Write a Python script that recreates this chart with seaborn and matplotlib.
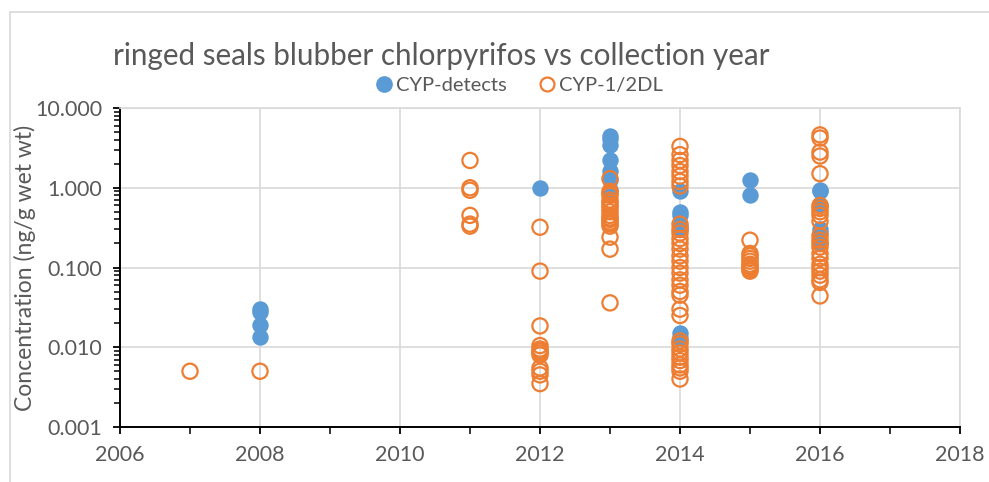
import numpy as np
import pandas as pd
import matplotlib
matplotlib.use('Agg')
import matplotlib.pyplot as plt
import seaborn as sns
from matplotlib.lines import Line2D
from matplotlib.ticker import LogLocator, FormatStrFormatter, MultipleLocator, NullFormatter

# ── Data ─────────────────────────────────────────────────────
# CYP-detects (filled blue)
detect_years = [2008, 2008, 2008, 2008,
                2012,
                2013, 2013, 2013, 2013, 2013, 2013, 2013,
                2014, 2014, 2014, 2014, 2014, 2014, 2014,
                2015, 2015,
                2016, 2016, 2016, 2016, 2016, 2016]
detect_conc = [0.030, 0.028, 0.019, 0.0135,
               1.0,
               4.4, 4.1, 3.4, 2.2, 1.6, 1.25, 0.95,
               0.9, 0.5, 0.45, 0.33, 0.30, 0.015, 0.013,
               1.25, 0.8,
               0.95, 0.9, 0.6, 0.3, 0.27, 0.2]

# CYP-1/2DL (open orange)
dl_years = ([2007, 2008]
            + [2011] * 6
            + [2012] * 12
            + [2013] * 18
            + [2014] * 34
            + [2015] * 10
            + [2016] * 23)
dl_conc = ([0.005, 0.005]
           + [2.2, 1.0, 0.93, 0.45, 0.35, 0.33]
           + [0.32, 0.09, 0.0185, 0.0105, 0.0095, 0.009, 0.0085, 0.008,
              0.0055, 0.005, 0.0045, 0.0035]
           + [1.3, 0.9, 0.85, 0.8, 0.7, 0.65, 0.6, 0.55, 0.5, 0.45, 0.42,
              0.4, 0.37, 0.35, 0.33, 0.24, 0.17, 0.036]
           + [3.3, 2.6, 2.2, 1.9, 1.6, 1.4, 1.2, 1.05, 0.35, 0.3, 0.27,
              0.23, 0.2, 0.17, 0.14, 0.12, 0.1, 0.085, 0.07, 0.06, 0.05,
              0.045, 0.03, 0.025, 0.012, 0.011, 0.0095, 0.0085, 0.0075,
              0.0068, 0.006, 0.0055, 0.005, 0.004]
           + [0.22, 0.15, 0.14, 0.13, 0.12, 0.11, 0.105, 0.1, 0.095, 0.09]
           + [4.6, 4.2, 2.8, 2.5, 1.5, 0.6, 0.55, 0.5, 0.45, 0.38, 0.25,
              0.22, 0.2, 0.18, 0.15, 0.13, 0.11, 0.1, 0.09, 0.08, 0.07,
              0.065, 0.044])

title = 'ringed seals blubber chlorpyrifos vs collection year'
series_names = ['CYP-detects', 'CYP-1/2DL']

BLUE = '#5B9BD5'
ORANGE = '#ED7D31'
GREY_TXT = '#595959'
GRID = '#D9D9D9'

df_det = pd.DataFrame({'year': detect_years, 'conc': detect_conc})
df_dl = pd.DataFrame({'year': dl_years, 'conc': dl_conc})

# ── Style ────────────────────────────────────────────────────
sns.set_style('white')
plt.rcParams['font.family'] = ['Lato', 'DejaVu Sans']

fig = plt.figure(figsize=(9.89, 4.82), dpi=100)
ax = fig.add_axes([120 / 989, 1 - 427 / 482, 840 / 989, 319 / 482])

sns.scatterplot(data=df_det, x='year', y='conc', ax=ax, s=140,
                color=BLUE, edgecolor=BLUE, linewidth=0, zorder=3)
sns.scatterplot(data=df_dl, x='year', y='conc', ax=ax, s=120,
                facecolor='none', edgecolor=ORANGE, linewidth=1.6, zorder=4)

ax.set_yscale('log')
ax.set_ylim(0.001, 10)
ax.set_xlim(2006, 2018)

ax.xaxis.set_major_locator(MultipleLocator(2))
ax.xaxis.set_minor_locator(MultipleLocator(1))
ax.yaxis.set_major_locator(LogLocator(base=10))
ax.yaxis.set_minor_locator(LogLocator(base=10, subs=np.arange(2, 10)))
ax.yaxis.set_major_formatter(FormatStrFormatter('%.3f'))
ax.yaxis.set_minor_formatter(NullFormatter())

ax.grid(True, which='major', color=GRID, linewidth=1.2, zorder=0)
ax.set_axisbelow(True)

for side in ['top', 'right']:
    ax.spines[side].set_color(GRID)
    ax.spines[side].set_linewidth(1.2)
for side in ['left', 'bottom']:
    ax.spines[side].set_color('black')
    ax.spines[side].set_linewidth(1.4)

ax.tick_params(axis='both', which='major', direction='out', length=5,
               width=1.3, color='black', labelsize=15.5, labelcolor=GREY_TXT)
ax.tick_params(axis='x', which='major', pad=8)
ax.tick_params(axis='y', which='major', pad=8)
ax.tick_params(axis='both', which='minor', direction='out', length=4,
               width=1.1, color='black')
ax.tick_params(axis='x', which='minor', length=5)
ax.tick_params(axis='both', which='both', bottom=True, left=True)

ax.set_xlabel('')
ax.set_ylabel('Concentration (ng/g wet wt)', fontsize=16.5, color=GREY_TXT,
              labelpad=0)
ax.yaxis.set_label_coords(-0.1, 0.5)

# ── Title and legend ─────────────────────────────────────────
fig.text(113 / 989, 1 - 56 / 482, title, fontsize=21.3, color=GREY_TXT,
         va='center', ha='left')

handles = [
    Line2D([], [], marker='o', linestyle='none', markersize=11,
           markerfacecolor=BLUE, markeredgecolor=BLUE),
    Line2D([], [], marker='o', linestyle='none', markersize=10,
           markerfacecolor='none', markeredgecolor=ORANGE,
           markeredgewidth=1.6),
]
fig.legend(handles, series_names, loc='center', ncol=2, frameon=False,
           bbox_to_anchor=(518 / 989, 1 - 85 / 482), fontsize=14.5,
           labelcolor=GREY_TXT, handletextpad=0.1, columnspacing=1.5,
           handlelength=1.0)

# chart-area frame (runs off the right and bottom edges)
fig.add_artist(Line2D([10 / 989, 1.0], [1 - 12 / 482, 1 - 12 / 482],
                      color=GRID, linewidth=1.2, transform=fig.transFigure))
fig.add_artist(Line2D([10 / 989, 10 / 989], [0, 1 - 12 / 482],
                      color=GRID, linewidth=1.2, transform=fig.transFigure))

fig.savefig('out.png', dpi=100, facecolor='white')
